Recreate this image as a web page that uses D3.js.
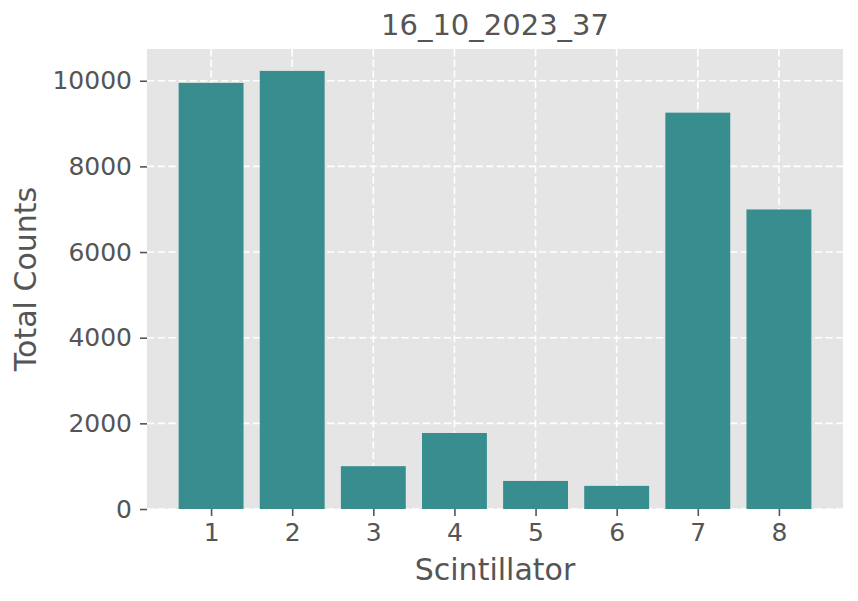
<!DOCTYPE html>
<html>
<head>
<meta charset="utf-8">
<script src="https://cdn.jsdelivr.net/npm/d3@7"></script>
<style>
  html, body { margin: 0; padding: 0; background: #fff; }
  svg { display: block; font-family: "DejaVu Sans", sans-serif; }
</style>
</head>
<body>
<svg id="chart" width="858" height="601"></svg>
<script>
const title = "16_10_2023_37";
const categories = [1, 2, 3, 4, 5, 6, 7, 8];
const counts = [9950, 10230, 1000, 1775, 655, 540, 9255, 6995];
const yTicks = [0, 2000, 4000, 6000, 8000, 10000];
const xLabel = "Scintillator";
const yLabel = "Total Counts";

const W = 858, H = 601;
const plot = { left: 147, right: 843, top: 49, bottom: 509 };
const svg = d3.select("#chart");

const barWidth = 0.8;
const xMinData = d3.min(categories) - barWidth / 2;
const xMaxData = d3.max(categories) + barWidth / 2;
const xPad = (xMaxData - xMinData) * 0.05;
const x = d3.scaleLinear()
  .domain([xMinData - xPad, xMaxData + xPad])
  .range([plot.left, plot.right]);
const y = d3.scaleLinear()
  .domain([0, d3.max(counts) * 1.05])
  .range([plot.bottom, plot.top]);

// background
svg.append("rect")
  .attr("x", plot.left).attr("y", plot.top)
  .attr("width", plot.right - plot.left).attr("height", plot.bottom - plot.top)
  .attr("fill", "#E5E5E5");

// grid
const grid = svg.append("g");
grid.selectAll("line.h").data(yTicks).join("line")
  .attr("x1", plot.left).attr("x2", plot.right)
  .attr("y1", d => y(d)).attr("y2", d => y(d))
  .attr("stroke", "#fff").attr("stroke-width", 1.6).attr("stroke-dasharray", "7.4,3.2");
grid.selectAll("line.v").data(categories).join("line")
  .attr("y1", plot.top).attr("y2", plot.bottom)
  .attr("x1", d => x(d)).attr("x2", d => x(d))
  .attr("stroke", "#fff").attr("stroke-width", 1.6).attr("stroke-dasharray", "7.4,3.2");

// bars
svg.append("g").selectAll("rect").data(categories).join("rect")
  .attr("x", d => x(d - barWidth / 2))
  .attr("width", d => x(d + barWidth / 2) - x(d - barWidth / 2))
  .attr("y", (d, i) => y(counts[i]))
  .attr("height", (d, i) => y(0) - y(counts[i]))
  .attr("fill", "#388E8E");

// axes
const xAxis = d3.axisBottom(x).tickValues(categories).tickFormat(d3.format("d"))
  .tickSizeInner(7).tickSizeOuter(0).tickPadding(7);
const gx = svg.append("g").attr("transform", `translate(0,${plot.bottom})`).call(xAxis);
const yAxis = d3.axisLeft(y).tickValues(yTicks).tickFormat(d3.format("d"))
  .tickSizeInner(7).tickSizeOuter(0).tickPadding(8);
const gy = svg.append("g").attr("transform", `translate(${plot.left},0)`).call(yAxis);
[gx, gy].forEach(g => {
  g.select(".domain").remove();
  g.selectAll(".tick line").attr("stroke", "#555").attr("stroke-width", 1.6);
  g.selectAll(".tick text").attr("fill", "#555").attr("font-size", 25)
    .attr("font-family", "DejaVu Sans, sans-serif");
});
gx.selectAll(".tick text").attr("dy", "0.71em");

// labels
svg.append("text").attr("x", (plot.left + plot.right) / 2).attr("y", 35)
  .attr("text-anchor", "middle").attr("fill", "#555").attr("font-size", 29)
  .text(title);
svg.append("text").attr("x", (plot.left + plot.right) / 2).attr("y", 580)
  .attr("text-anchor", "middle").attr("fill", "#555").attr("font-size", 30)
  .text(xLabel);
svg.append("text")
  .attr("transform", `translate(36,${(plot.top + plot.bottom) / 2}) rotate(-90)`)
  .attr("text-anchor", "middle").attr("fill", "#555").attr("font-size", 30)
  .text(yLabel);
</script>
</body>
</html>
